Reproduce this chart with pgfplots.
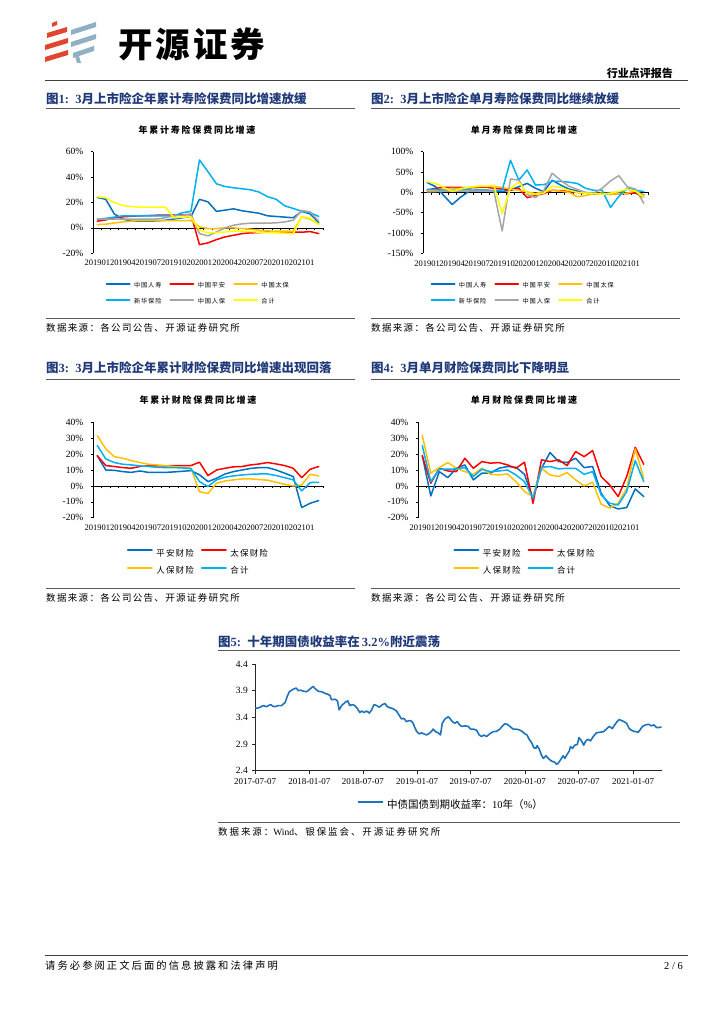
\documentclass[border=0pt]{standalone}
\usepackage{pgfplots}
\pgfplotsset{compat=1.18}
\usepackage{pgfplotstable}
\usepackage{fontspec}
\setmainfont{Liberation Serif}
\newfontfamily\cjk{Noto Sans CJK SC}
\newfontfamily\cjkS{Noto Sans CJK SC}[LetterSpace=20]
\newfontfamily\cjkL{Noto Sans CJK SC}[LetterSpace=14]

\definecolor{cBlue}{HTML}{0070C0}
\definecolor{cRed}{HTML}{FF0000}
\definecolor{cGold}{HTML}{FFC000}
\definecolor{cSky}{HTML}{00B0F0}
\definecolor{cGray}{HTML}{A5A5A5}
\definecolor{cYel}{HTML}{FFFF00}
\definecolor{cTitle}{HTML}{203A79}
\definecolor{cLine}{HTML}{595959}
\definecolor{logoRed}{HTML}{E0452F}
\definecolor{logoBlue}{HTML}{8FAFC3}
\definecolor{cFive}{HTML}{1F73BD}

% Chart 1: cumulative life premium growth (%)
\pgfplotstableread{
i rs pa tb xh rb hj
0 24 5.3 2.6 6.8 7 24.5
1 22.5 6.3 2.9 7.5 7 23.7
2 11 7.9 3.9 8.5 7 20
3 7 8.7 4.7 9.5 7 17.6
4 5.3 9.2 5.3 9.5 7 16.8
5 5.3 9.5 5.8 9.5 7 16.3
6 5.3 9.7 5.8 9.5 7 16.3
7 5.5 10 5.8 9.5 7 16.3
8 6 10 5.8 9.5 8 16.3
9 7 10 5.8 9.5 9.5 7.9
10 8 10.3 5.8 12 10 8.5
11 9 10.5 5.8 13 11 8.7
12 22.5 -13.2 0.8 53.5 -4.5 -1.8
13 20.5 -11.8 -0.5 44.2 -6.3 -3.9
14 13 -9.2 -0.5 34.7 -3.2 -3.7
15 14 -7.1 0 32.6 0 -3.2
16 15 -5.8 0 31.6 2.1 -2.6
17 13.5 -4.5 -0.5 30.8 3.2 -2.6
18 12.5 -3.9 -1 30 3.7 -2.9
19 11.5 -3.7 -1.8 28.2 3.7 -3.4
20 9.5 -3.2 -2.4 24.5 3.7 -3.7
21 9 -3.2 -2.6 22.6 4 -3.9
22 8.5 -3.2 -2.6 17.4 4.7 -4.2
23 8 -3.2 -2.6 15.3 6 -4.7
24 13 -3.4 8.7 13.2 13.7 9
25 11 -2.9 6.8 12 12.6 7.6
26 4 -4.5 2.9 9 5.3 2.6
}\tA

% Chart 2: monthly life premium growth (%)
\pgfplotstableread{
i rs pa tb xh rb hj
0 24 5.7 2.5 7.4 1 26
1 14 10 5 7 2 22
2 -8 12 8 5 3 12
3 -30 12 10 5 3 2
4 -12 12 10 6 3 8
5 2 11 12 6 3 13
6 5.7 12 14 5 3 15
7 5.7 13 15 5 3 15
8 3 10 14 5 3 17
9 1.6 8 12 5 -95 -52
10 6 5 8 79 33 10
11 14 10 5 30 30 25
12 22 -13 1 55 -5 -2
13 10 -8 -3 18 -13 -5
14 1.6 -3 2 19 5 -2
15 30 5 5 27 47 15
16 18 4 3 27 30 12
17 8 2 0 25 15 5
18 3 0 -10.7 22 7 0
19 -2.5 -2 -8 10 0 -2
20 -4 -3 -3 5 -2 -3
21 -2.5 -3 -2 5 10 -5
22 -1 -5 -5 -37 28 -2
23 0 -3 -3 -10 41 2
24 8 -3 -2 10 14 8
25 3 -2 3 5 8 3
26 -6.5 -12 -8 2 -27 -12
}\tB

% Chart 3: cumulative P&C premium growth (%)
\pgfplotstableread{
i pa tb rb hj
0 19 19 31.7 25.4
1 10 12.8 23.3 17
2 9.8 12.2 18.4 14.7
3 9 11.5 17.4 13.6
4 8.5 11.1 15.9 13.2
5 9.4 12.2 14.7 12.6
6 8.5 12.6 13.6 12.2
7 8.5 12.6 13.2 11.7
8 8.5 12.6 12.8 11.5
9 8.8 12.8 12.2 11.5
10 9.2 12.8 11.7 11.3
11 9.6 12.8 11.1 10.9
12 7 14.9 -3.6 2.7
13 2.7 6.5 -4.8 -0.4
14 4.8 10 1.7 3.8
15 7.5 11.1 3.1 5.5
16 9 12 3.8 6.3
17 10 12.2 4.4 6.9
18 11 13.2 4.4 7.3
19 11.5 13.8 4 7.5
20 11.5 14.7 3.6 7.5
21 10 13.8 2.3 6.5
22 8 12.8 1 5.2
23 5.9 11.1 0 3.8
24 -13.6 5.2 0.6 -3.1
25 -10.9 10.5 7.3 2.1
26 -9.2 12.2 6.3 2.3
}\tC

% Chart 4: monthly P&C premium growth (%)
\pgfplotstableread{
i pa tb rb hj
0 19 19 31.7 25.4
1 -6.3 1.7 8 2.7
2 9 11.1 11.5 10.5
3 5.2 9.4 14.7 10.5
4 11.1 9 11.1 10.7
5 13.2 17.4 9 11.5
6 3.8 11.1 7.3 5.9
7 8 15.3 11.1 10.5
8 8 14.3 7.3 9
9 11.1 14.7 6.9 9.4
10 12.2 13.2 7.5 10
11 11.7 11.1 2.7 6.9
12 7.3 14.9 -3.6 2.7
13 -7.8 -10.9 -6.7 -7.8
14 11.1 16.4 11.1 11.7
15 21 15.3 6.9 12.2
16 15.3 16.4 5.9 10.7
17 14.7 12.8 8.4 11.1
18 17.4 21.6 3.8 11.1
19 11.5 18.4 0 7.3
20 12.2 22.2 2.3 9
21 -4.6 5.9 -11.5 -5.7
22 -12.4 0.6 -14 -10.9
23 -14.5 -6.7 -10.9 -12
24 -13.6 5.9 -1.5 -3.6
25 -1.9 24.3 23.3 15.9
26 -6.7 13.6 4.8 2.7
}\tD

% Chart 5: 10y CGB yield (%), x = days since 2017-07-07
\pgfplotstableread{
d y
0 3.58
8 3.57
17 3.59
28 3.62
40 3.60
45 3.62
53 3.64
60 3.61
68 3.60
79 3.62
90 3.62
102 3.68
109 3.79
116 3.88
127 3.92
139 3.95
147 3.90
155 3.91
164 3.89
175 3.88
184 3.92
192 3.96
197 3.98
205 3.93
214 3.89
226 3.88
237 3.85
248 3.83
254 3.81
259 3.73
271 3.74
279 3.71
285 3.54
293 3.62
305 3.68
314 3.71
321 3.62
330 3.64
338 3.62
346 3.57
355 3.49
361 3.52
369 3.49
378 3.52
387 3.48
395 3.54
403 3.64
412 3.62
421 3.59
429 3.63
440 3.66
448 3.60
457 3.58
468 3.56
479 3.52
488 3.44
496 3.37
504 3.38
513 3.32
522 3.34
530 3.33
536 3.28
541 3.21
547 3.14
556 3.09
564 3.11
572 3.09
581 3.07
590 3.10
598 3.14
603 3.18
612 3.13
620 3.11
628 3.07
634 3.29
643 3.37
654 3.41
660 3.38
668 3.32
677 3.29
685 3.32
691 3.27
699 3.23
711 3.24
722 3.23
730 3.18
739 3.18
750 3.16
759 3.07
767 3.04
775 3.07
784 3.04
790 3.07
797 3.10
806 3.13
818 3.14
829 3.18
838 3.24
846 3.28
854 3.27
863 3.23
874 3.18
885 3.18
897 3.16
906 3.13
914 3.09
921 3.07
928 2.99
936 2.93
944 2.83
951 2.82
955 2.87
962 2.81
970 2.69
976 2.63
985 2.68
993 2.63
1004 2.58
1015 2.56
1021 2.52
1026 2.54
1034 2.60
1043 2.68
1049 2.63
1055 2.69
1064 2.77
1068 2.85
1075 2.82
1083 2.88
1091 2.89
1097 3.02
1105 2.96
1113 2.88
1120 2.96
1128 2.99
1136 2.96
1145 3.04
1156 3.11
1167 3.12
1179 3.13
1190 3.18
1199 3.23
1210 3.19
1218 3.26
1226 3.32
1233 3.36
1241 3.34
1249 3.32
1258 3.29
1267 3.19
1274 3.16
1282 3.14
1291 3.13
1297 3.12
1303 3.16
1312 3.23
1323 3.26
1334 3.27
1342 3.24
1350 3.26
1359 3.21
1368 3.21
1376 3.22
}\tE

\pgfplotsset{
  catax/.style n args={5}{
    at={(#1pt,-#2pt)}, anchor=south west, scale only axis,
    width=#3pt, height=#4pt,
    axis x line=middle, axis y line=left,
    axis line style={-, black, line width=0.6pt},
    xmin=-0.5, xmax=26.5,
    xtick={-0.5,0.5,...,26.5}, xticklabels={},
    extra x ticks={0,3,...,24},
    extra x tick labels={201901,201904,201907,201910,202001,202004,202007,202010,202101},
    extra x tick style={major tick length=0pt, xticklabel style={anchor=center, yshift=-#5pt}},
    tick align=outside, major tick length=2.5pt,
    tick style={black, line width=0.5pt},
    hide obscured x ticks=false, hide obscured y ticks=false,
    tick label style={font=\fontsize{8.5}{8.5}\selectfont, inner sep=0pt},
    yticklabel style={anchor=east, xshift=-7pt, font=\fontsize{9.5}{9.5}\selectfont},
    every axis plot/.append style={line width=1.5pt, line join=round, line cap=round},
  },
  legThree/.style 2 args={
    legend cell align=left,
    legend style={at={(#1,#2)}, anchor=center, draw=none, fill=none,
      legend columns=3, font=\cjkL\fontsize{6.2}{6.2}\selectfont,
      nodes={inner sep=0pt},
      /tikz/every odd column/.append style={column sep=3.5pt},
      /tikz/every even column/.append style={column sep=8pt},
      row sep=9.5pt},
    legend image code/.code={\draw[##1, line width=1.8pt] (0pt,2.2pt) -- (23pt,2.2pt);},
  },
  legTwo/.style 2 args={
    legend cell align=left,
    legend style={at={(#1,#2)}, anchor=center, draw=none, fill=none,
      legend columns=2, font=\cjkL\fontsize{8.5}{8.5}\selectfont,
      nodes={inner sep=0pt},
      /tikz/every odd column/.append style={column sep=3.5pt},
      /tikz/every even column/.append style={column sep=7pt},
      row sep=8.5pt},
    legend image code/.code={\draw[##1, line width=2pt] (0pt,3pt) -- (24pt,3pt);},
  },
}

\begin{document}
\begin{tikzpicture}
\path[use as bounding box] (0pt,0pt) rectangle (724pt,-1024pt);

% ---------- header ----------
\fill[logoRed] (52pt,-23pt) -- (57pt,-21pt) -- (57pt,-25pt) -- (52pt,-27pt) -- cycle;
\fill[logoRed] (47pt,-33pt) -- (67pt,-27pt) -- (67pt,-32pt) -- (47pt,-38pt) -- cycle;
\fill[logoRed] (45pt,-45pt) -- (68pt,-38pt) -- (68pt,-43pt) -- (45pt,-50pt) -- cycle;
\fill[logoRed] (45pt,-57pt) -- (68pt,-50pt) -- (68pt,-55pt) -- (45pt,-62pt) -- cycle;
\fill[logoBlue] (71pt,-30pt) -- (96pt,-22pt) -- (96pt,-27pt) -- (71pt,-35pt) -- cycle;
\fill[logoBlue] (71pt,-42pt) -- (96pt,-34pt) -- (96pt,-39pt) -- (71pt,-47pt) -- cycle;
\fill[logoBlue] (73pt,-53pt) -- (94pt,-46pt) -- (94pt,-51pt) -- (73pt,-58pt) -- cycle;
\fill[logoBlue] (75pt,-56pt) -- (79pt,-56pt) -- (81pt,-63pt) -- (77pt,-63pt) -- cycle;
\node[anchor=west, inner sep=0pt] at (118pt,-44pt)
  {\cjk\bfseries\fontsize{34.5}{34.5}\selectfont\addfontfeature{LetterSpace=9}开源证券};
\node[anchor=east, inner sep=0pt] at (673pt,-73pt)
  {\cjk\bfseries\fontsize{11}{11}\selectfont 行业点评报告};
\draw[black!75, line width=1.5pt] (45pt,-80.5pt) -- (688pt,-80.5pt);

% ---------- panel titles and rules ----------
\node[anchor=west, inner sep=0pt, text=cTitle] at (46pt,-99pt)
  {\fontsize{12.5}{12.5}\selectfont\bfseries{\cjk 图}1:\ \ 3{\cjk 月上市险企年累计寿险保费同比增速放缓}};
\node[anchor=west, inner sep=0pt, text=cTitle] at (371pt,-99pt)
  {\fontsize{12.5}{12.5}\selectfont\bfseries{\cjk 图}2:\ \ 3{\cjk 月上市险企单月寿险保费同比继续放缓}};
\node[anchor=west, inner sep=0pt, text=cTitle] at (46pt,-368pt)
  {\fontsize{12.5}{12.5}\selectfont\bfseries{\cjk 图}3:\ \ 3{\cjk 月上市险企年累计财险保费同比增速出现回落}};
\node[anchor=west, inner sep=0pt, text=cTitle] at (371pt,-368pt)
  {\fontsize{12.5}{12.5}\selectfont\bfseries{\cjk 图}4:\ \ 3{\cjk 月单月财险保费同比下降明显}};
\node[anchor=west, inner sep=0pt, text=cTitle] at (218pt,-642pt)
  {\fontsize{12.5}{12.5}\selectfont\bfseries{\cjk 图}5:\ \ {\cjk 十年期国债收益率在}\,3.2\%{\cjk 附近震荡}};

\foreach \yy in {109,318,379,588} {
  \draw[cLine, line width=1pt] (46pt,-\yy pt) -- (355pt,-\yy pt);
  \draw[cLine, line width=1pt] (371pt,-\yy pt) -- (680pt,-\yy pt);
}
\draw[cLine, line width=1pt] (218pt,-650pt) -- (680pt,-650pt);
\draw[cLine, line width=1pt] (218pt,-822pt) -- (680pt,-822pt);

% inner chart titles
\node[inner sep=0pt] at (197pt,-130pt) {\cjkS\bfseries\fontsize{9}{9}\selectfont 年累计寿险保费同比增速};
\node[inner sep=0pt] at (524pt,-130pt) {\cjkS\bfseries\fontsize{9}{9}\selectfont 单月寿险保费同比增速};
\node[inner sep=0pt] at (198pt,-400pt) {\cjkS\bfseries\fontsize{9}{9}\selectfont 年累计财险保费同比增速};
\node[inner sep=0pt] at (524pt,-400pt) {\cjkS\bfseries\fontsize{9}{9}\selectfont 单月财险保费同比增速};

% sources
\node[anchor=west, inner sep=0pt] at (46pt,-328pt) {\cjkL\fontsize{9.5}{9.5}\selectfont 数据来源：各公司公告、开源证券研究所};
\node[anchor=west, inner sep=0pt] at (371pt,-328pt) {\cjkL\fontsize{9.5}{9.5}\selectfont 数据来源：各公司公告、开源证券研究所};
\node[anchor=west, inner sep=0pt] at (46pt,-598pt) {\cjkL\fontsize{9.5}{9.5}\selectfont 数据来源：各公司公告、开源证券研究所};
\node[anchor=west, inner sep=0pt] at (371pt,-598pt) {\cjkL\fontsize{9.5}{9.5}\selectfont 数据来源：各公司公告、开源证券研究所};
\node[anchor=west, inner sep=0pt] at (218pt,-832pt) {\fontsize{9.5}{9.5}\selectfont{\cjkS 数据来源：}Wind{\cjkS 、银保监会、开源证券研究所}};

% footer
\draw[black!75, line width=1pt] (45pt,-955pt) -- (688pt,-955pt);
\node[anchor=west, inner sep=0pt] at (45pt,-966pt) {\cjkS\fontsize{10.3}{10.3}\selectfont 请务必参阅正文后面的信息披露和法律声明};
\node[anchor=east, inner sep=0pt] at (683pt,-966pt) {\fontsize{10.5}{10.5}\selectfont 2 / 6};

% ---------- chart 1 ----------
\begin{axis}[catax={93}{253.3}{230}{101.6}{35.3},
  ymin=-20, ymax=60, ytick={-20,0,20,40,60},
  yticklabels={-20\%,0\%,20\%,40\%,60\%},
  legThree={0.4535}{-0.40}]
\addplot[cBlue] table[x=i,y=rs] {\tA}; \addlegendentry{中国人寿}
\addplot[cRed] table[x=i,y=pa] {\tA}; \addlegendentry{中国平安}
\addplot[cGold] table[x=i,y=tb] {\tA}; \addlegendentry{中国太保}
\addplot[cSky] table[x=i,y=xh] {\tA}; \addlegendentry{新华保险}
\addplot[cGray] table[x=i,y=rb] {\tA}; \addlegendentry{中国人保}
\addplot[cYel] table[x=i,y=hj] {\tA}; \addlegendentry{合计}
\end{axis}

% ---------- chart 2 ----------
\begin{axis}[catax={423}{253.3}{225}{101.6}{71},
  ymin=-150, ymax=100, ytick={-150,-100,-50,0,50,100},
  yticklabels={-150\%,-100\%,-50\%,0\%,50\%,100\%},
  legThree={0.441}{-0.40}]
\addplot[cBlue] table[x=i,y=rs] {\tB}; \addlegendentry{中国人寿}
\addplot[cRed] table[x=i,y=pa] {\tB}; \addlegendentry{中国平安}
\addplot[cGold] table[x=i,y=tb] {\tB}; \addlegendentry{中国太保}
\addplot[cSky] table[x=i,y=xh] {\tB}; \addlegendentry{新华保险}
\addplot[cGray] table[x=i,y=rb] {\tB}; \addlegendentry{中国人保}
\addplot[cYel] table[x=i,y=hj] {\tB}; \addlegendentry{合计}
\end{axis}

% ---------- chart 3 ----------
\begin{axis}[catax={93}{517.7}{230}{95.4}{42},
  ymin=-20, ymax=40, ytick={-20,-10,0,10,20,30,40},
  yticklabels={-20\%,-10\%,0\%,10\%,20\%,30\%,40\%},
  legTwo={0.454}{-0.465}]
\addplot[cBlue] table[x=i,y=pa] {\tC}; \addlegendentry{平安财险}
\addplot[cRed] table[x=i,y=tb] {\tC}; \addlegendentry{太保财险}
\addplot[cGold] table[x=i,y=rb] {\tC}; \addlegendentry{人保财险}
\addplot[cSky] table[x=i,y=hj] {\tC}; \addlegendentry{合计}
\end{axis}

% ---------- chart 4 ----------
\begin{axis}[catax={418}{517.7}{230}{95.4}{42},
  ymin=-20, ymax=40, ytick={-20,-10,0,10,20,30,40},
  yticklabels={-20\%,-10\%,0\%,10\%,20\%,30\%,40\%},
  legTwo={0.461}{-0.465}]
\addplot[cBlue] table[x=i,y=pa] {\tD}; \addlegendentry{平安财险}
\addplot[cRed] table[x=i,y=tb] {\tD}; \addlegendentry{太保财险}
\addplot[cGold] table[x=i,y=rb] {\tD}; \addlegendentry{人保财险}
\addplot[cSky] table[x=i,y=hj] {\tD}; \addlegendentry{合计}
\end{axis}

% ---------- chart 5 ----------
\begin{axis}[at={(255pt,-770.7pt)}, anchor=south west, scale only axis,
  width=407pt, height=106.7pt,
  xmin=0, xmax=1378, ymin=2.4, ymax=4.4,
  axis x line=bottom, axis y line=left,
  axis line style={-, black!85, line width=0.6pt},
  xtick={0,184,365,549,730,914,1096,1280},
  xticklabels={2017-07-07,2018-01-07,2018-07-07,2019-01-07,2019-07-07,2020-01-07,2020-07-07,2021-01-07},
  ytick={2.4,2.9,3.4,3.9,4.4}, yticklabels={2.4,2.9,3.4,3.9,4.4},
  tick align=outside, major tick length=3pt,
  tick style={black!85, line width=0.5pt},
  tick label style={font=\fontsize{9}{9}\selectfont, inner sep=0pt},
  xticklabel style={anchor=center, yshift=-8pt},
  yticklabel style={anchor=east, xshift=-4pt, font=\fontsize{9.5}{9.5}\selectfont},
  legend style={at={(0.479,-0.32)}, anchor=center, draw=none, fill=none,
    font=\fontsize{10.5}{10.5}\selectfont, nodes={inner sep=0pt},
    /tikz/every odd column/.append style={column sep=3pt}},
  legend image code/.code={\draw[#1, line width=2pt] (0pt,3.3pt) -- (25pt,3.3pt);}]
\addplot[cFive, line width=1.6pt, line join=round] table[x=d,y=y] {\tE};
\addlegendentry{{\cjk 中债国债到期收益率：}10{\cjk 年（}\%{\cjk ）}}
\end{axis}

\end{tikzpicture}
\end{document}
